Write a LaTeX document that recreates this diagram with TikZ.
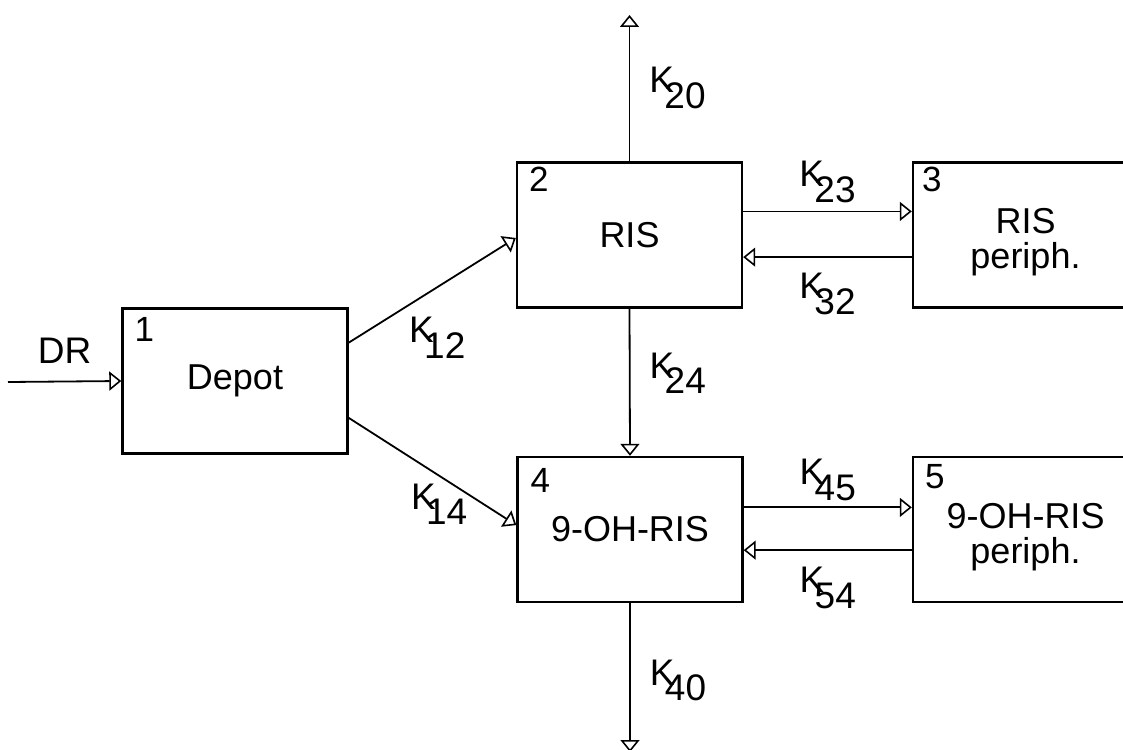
\documentclass[tikz,border=0pt]{standalone}
\usepackage{fontspec}
\setmainfont{Liberation Sans}
\usetikzlibrary{arrows.meta,calc}

\newcommand{\kk}[1]{K\kern-0.26em\lower0.42em\hbox{#1}}

\begin{document}
\begin{tikzpicture}[x=1pt, y=-1pt,
    box/.style={draw, line width=2.4pt, minimum width=225pt, minimum height=145pt, inner sep=0pt, align=center, font=\fontsize{36}{35}\selectfont},
    num/.style={anchor=north west, inner sep=0pt, font=\fontsize{35}{36}\selectfont},
    klab/.style={inner sep=0pt, font=\fontsize{37}{40}\selectfont},
    arr/.style={-{Triangle[open, length=12pt, width=19pt, line width=1.6pt]}, line width=1.8pt}
]
\useasboundingbox (0,0) rectangle (1123,749);
\clip (0,0) rectangle (1123,749);

\node[box] (depot) at (235,381) {Depot};
\node[box] (ris) at (629.5,235) {RIS};
\node[box] (oh) at (630,529.5) {9-OH-RIS};
\node[box] (risp) at (1025.5,235) {\rule{0pt}{40pt}RIS\\periph.};
\node[box] (ohp) at (1025.5,529.5) {\rule{0pt}{40pt}9-OH-RIS\\periph.};

\node[num] (n1) at ($(depot.north west)+(13,10)$) {1};
\node[num] (n2) at ($(ris.north west)+(13,6)$) {2};
\node[num] (n3) at ($(risp.north west)+(10,6)$) {3};
\node[num] (n4) at ($(oh.north west)+(14,12)$) {4};
\node[num] (n5) at ($(ohp.north west)+(13,8)$) {5};

\coordinate (dr) at (8,382);
\coordinate (out2) at (629.5,15);
\coordinate (out4) at (630,752);

% input and absorption
\draw[arr] (dr) -- node[klab, above=17pt] {DR} (depot.west);
\draw[arr] ($(depot.north east)!0.24!(depot.south east)$) -- node[klab, pos=0.53, below=29pt] {\kk{12}} ($(ris.north west)!0.52!(ris.south west)$);
\draw[arr] ($(depot.north east)!0.75!(depot.south east)$) -- node[klab, pos=0.54, below=7pt] {\kk{14}} ($(oh.north west)!0.47!(oh.south west)$);

% elimination and metabolism
\draw[arr] (ris.north) -- node[klab, right=19pt] {\kk{20}} (out2);
\draw[arr] (ris.south) -- node[klab, pos=0.44, right=19pt] {\kk{24}} (oh.north);
\draw[arr] (oh.south) -- node[klab, pos=0.52, right=19pt] {\kk{40}} (out4);

% peripheral exchange
\draw[arr] ($(ris.north east)!0.34!(ris.south east)$) -- node[klab, above=8pt] {\kk{23}} ($(risp.north west)!0.34!(risp.south west)$);
\draw[arr] ($(risp.north west)!0.65!(risp.south west)$) -- node[klab, below=15pt] {\kk{32}} ($(ris.north east)!0.65!(ris.south east)$);
\draw[arr] ($(oh.north east)!0.35!(oh.south east)$) -- node[klab, above=6pt] {\kk{45}} ($(ohp.north west)!0.35!(ohp.south west)$);
\draw[arr] ($(ohp.north west)!0.64!(ohp.south west)$) -- node[klab, below=16pt] {\kk{54}} ($(oh.north east)!0.64!(oh.south east)$);
\end{tikzpicture}
\end{document}
